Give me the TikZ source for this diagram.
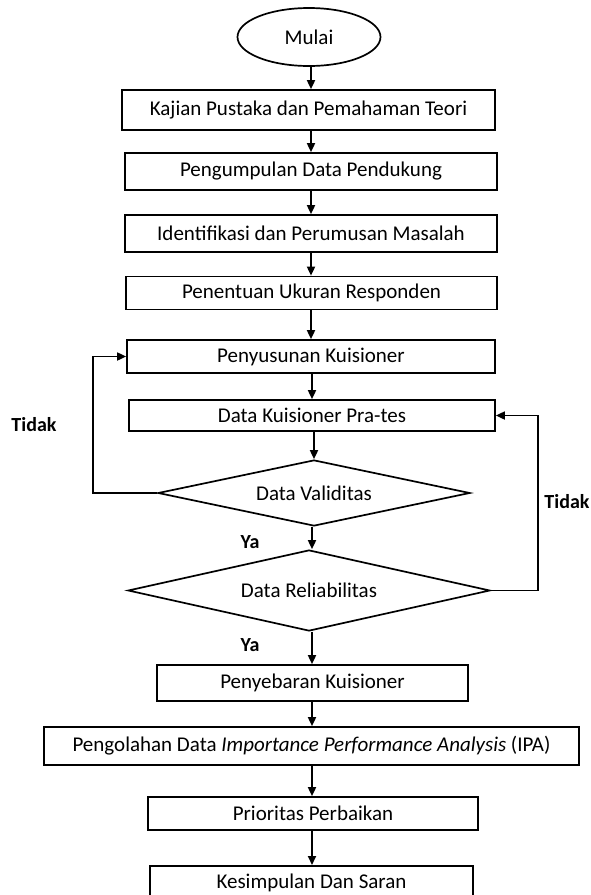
\documentclass[tikz,border=0pt]{standalone}
\usepackage{fontspec}
\setmainfont{Carlito}
\usetikzlibrary{shapes.geometric,arrows.meta}
\begin{document}
\begin{tikzpicture}[x=1pt,y=-1pt,
  every node/.style={font=\fontsize{21}{25}\selectfont},
  procbox/.style={draw,line width=1.7pt,inner sep=0pt,minimum height=#1},
  procbox/.default=36pt,
  decision/.style={draw,diamond,line width=1.7pt,inner sep=0pt},
  lab/.style={font=\fontsize{20}{24}\selectfont\bfseries},
  flow/.style={line width=1.7pt,-{Triangle[length=9pt,width=8pt]}},
  link/.style={line width=1.7pt}
]
\clip (0,0) rectangle (591,895);
\useasboundingbox (0,0) rectangle (591,895);
\fill[white] (0,0) rectangle (591,895);

\node[draw,ellipse,line width=1.7pt,minimum width=143pt,minimum height=58pt,inner sep=0pt] (start) at (309,37) {Mulai};
\node[procbox=40pt,minimum width=373pt] (b1) at (308.5,110) {Kajian Pustaka dan Pemahaman Teori};
\node[procbox=37pt,minimum width=372pt] (b2) at (311,171.5) {Pengumpulan Data Pendukung};
\node[procbox=37pt,minimum width=372pt] (b3) at (311,233.5) {Identifikasi dan Perumusan Masalah};
\node[procbox=33pt,minimum width=371pt] (b4) at (311.5,293) {Penentuan Ukuran Responden};
\node[procbox=33pt,minimum width=368pt] (b5) at (311,356.5) {Penyusunan Kuisioner};
\node[procbox=31pt,minimum width=366pt] (b6) at (312,415.5) {Data Kuisioner Pra-tes};
\node[decision,minimum width=312pt,minimum height=66pt,aspect=4.7] (d1) at (314,493) {Data Validitas};
\node[decision,minimum width=362pt,minimum height=81pt,aspect=4.5] (d2) at (309,590.5) {Data Reliabilitas};
\node[procbox=36pt,minimum width=311pt] (b7) at (312.5,683) {Penyebaran Kuisioner};
\node[procbox=38pt,minimum width=535pt] (b8) at (311.5,746) {Pengolahan Data \textit{Importance Performance Analysis} (IPA)};
\node[procbox=33pt,minimum width=330pt] (b9) at (313,813.5) {Prioritas Perbaikan};
\node[procbox=50pt,minimum width=323pt,anchor=north] (b10) at (311.5,865) {};
\node at (311.5,883) {Kesimpulan Dan Saran};

\node[lab] (tidak1) at (34,425) {Tidak};
\node[lab] (tidak2) at (567,502) {Tidak};
\node[lab] (ya1) at (250,542) {Ya};
\node[lab] (ya2) at (250,645) {Ya};

\draw[flow] (start.south -| 311,0) -- (311,0 |- b1.north);
\draw[flow] (311,0 |- b1.south) -- (311,0 |- b2.north);
\draw[flow] (311,0 |- b2.south) -- (311,0 |- b3.north);
\draw[flow] (311,0 |- b3.south) -- (311,0 |- b4.north);
\draw[flow] (311,0 |- b4.south) -- (311,0 |- b5.north);
\draw[flow] (312,0 |- b5.south) -- (312,0 |- b6.north);
\draw[flow] (b6.south -| d1.north) -- (d1.north);
\draw[flow] (d1.south -| 312,0) -- (312,0 |- d2.north);
\draw[flow] (312,0 |- d2.south) -- (312,0 |- b7.north);
\draw[flow] (312,0 |- b7.south) -- (312,0 |- b8.north);
\draw[flow] (312,0 |- b8.south) -- (312,0 |- b9.north);
\draw[flow] (312,0 |- b9.south) -- (312,0 |- b10.north);

\coordinate (lc) at (93,0);
\coordinate (rc) at (538,0);
\draw[flow] (d1.west) -- (lc |- d1.west) -- (lc |- b5.west) -- (b5.west);
\draw[flow] (d2.east) -- (rc |- d2.east) -- (rc |- b6.east) -- (b6.east);
\end{tikzpicture}
\end{document}
